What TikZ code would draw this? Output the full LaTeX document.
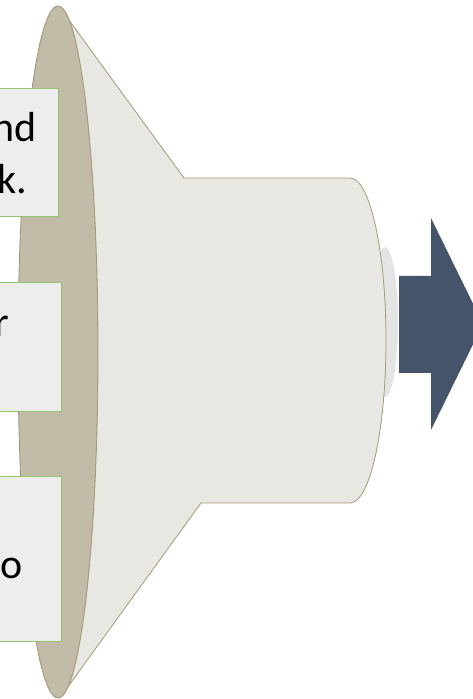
\documentclass[tikz,border=0pt]{standalone}
\usepackage{fontspec}
\setmainfont{Carlito}
\definecolor{rimfill}{HTML}{C2BBA8}
\definecolor{rimline}{HTML}{9D9270}
\definecolor{conefill}{HTML}{E8E7E2}
\definecolor{coneline}{HTML}{A39A78}
\definecolor{boxfill}{HTML}{EDEDED}
\definecolor{boxline}{HTML}{92C36F}
\definecolor{capfill}{HTML}{E4E4E4}
\definecolor{arrowfill}{HTML}{44546A}
\tikzset{
  textbox/.style={draw=boxline, fill=boxfill, line width=1pt, inner sep=0pt},
  lbl/.style={inner sep=0pt, font=\fontsize{42}{51}\selectfont, anchor=base east},
}
\begin{document}
\begin{tikzpicture}[x=1pt,y=1pt]
\useasboundingbox (0,0) rectangle (473,699);
\clip (0,0) rectangle (473,699);
% rim ellipse
\draw[fill=rimfill, draw=rimline, line width=0.8pt] (58,347) ellipse [x radius=40, y radius=346];
% cap ellipse behind cylinder
\fill[capfill] (385,377) ellipse [x radius=13, y radius=75];
% cone + cylinder
\draw[fill=conefill, draw=coneline, line width=0.8pt]
  ({58+40*cos(73)},{347+346*sin(73)}) -- (184,521) -- (350,521)
  arc [start angle=90, end angle=-90, x radius=36, y radius=162.5]
  -- (201,196) -- ({58+40*cos(-75)},{347+346*sin(-75)})
  arc [start angle=-75, end angle=73, x radius=40, y radius=346];
% arrow
\fill[arrowfill] (399,423) -- (431,423) -- (431,481) -- (483,375) -- (431,269) -- (431,326) -- (399,326) -- cycle;
% text boxes
\node[textbox, minimum width=158pt, minimum height=128pt] (b1) at (-21,546) {};
\node[textbox, minimum width=161pt, minimum height=129pt] (b2) at (-19.5,351.5) {};
\node[textbox, minimum width=161pt, minimum height=165pt] (b3) at (-19.5,139.5) {};
\node[lbl] (t1a) at (37,557) {nd};
\node[lbl] (t1b) at (27,505) {k.};
\node[lbl] (t2) at (9.5,362) {r};
\node[lbl] (t3) at (23,120) {to};
\end{tikzpicture}
\end{document}
